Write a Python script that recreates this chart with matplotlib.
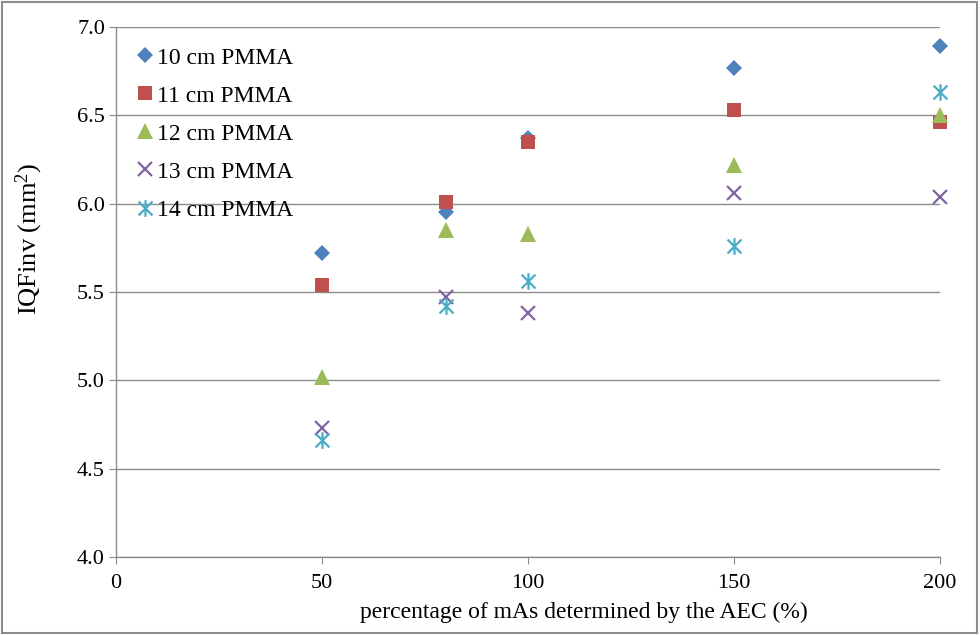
import numpy as np
import matplotlib
matplotlib.use("Agg")
import matplotlib.pyplot as plt
from matplotlib.path import Path
from matplotlib.patches import Rectangle

# data
mas_pct = [50, 80, 100, 150, 200]
iqf_10cm = [5.72, 5.95, 6.37, 6.77, 6.89]
iqf_11cm = [5.54, 6.01, 6.35, 6.53, 6.46]
iqf_12cm = [5.02, 5.85, 5.83, 6.22, 6.50]
iqf_13cm = [4.73, 5.47, 5.38, 6.06, 6.04]
iqf_14cm = [4.66, 5.42, 5.56, 5.76, 6.63]
labels = ["10 cm PMMA", "11 cm PMMA", "12 cm PMMA", "13 cm PMMA", "14 cm PMMA"]

plt.rcParams["font.family"] = ["Liberation Serif", "DejaVu Serif"]
plt.rcParams["mathtext.default"] = "regular"

# Excel-style star: X with a vertical bar
star_path = Path(
    [(-0.5, -0.5), (0.5, 0.5), (-0.5, 0.5), (0.5, -0.5), (0, -0.6), (0, 0.6)],
    [Path.MOVETO, Path.LINETO, Path.MOVETO, Path.LINETO, Path.MOVETO, Path.LINETO],
)

series = [
    (iqf_10cm, "D", "#4F81BD", 8.5),
    (iqf_11cm, "s", "#C0504D", 10.5),
    (iqf_12cm, "^", "#9BBB59", 11),
    (iqf_13cm, "x", "#8064A2", 10),
    (iqf_14cm, star_path, "#4BACC6", 12),
]

fig = plt.figure(figsize=(9.8, 6.35), dpi=100)
ax = fig.add_axes([0.1184, 0.1228, 0.8408, 0.8347])

for (vals, mk, col, ms), lab in zip(series, labels):
    line_marker = mk == "x" or isinstance(mk, Path)
    ax.plot(mas_pct, vals, linestyle="none", marker=mk, color=col,
            markersize=ms, markeredgewidth=1.6 if line_marker else 0,
            label=lab, clip_on=False, zorder=3)

ax.set_xlim(0, 200)
ax.set_ylim(4.0, 7.0)
ax.set_xticks([0, 50, 100, 150, 200])
ax.set_yticks(np.arange(4.0, 7.01, 0.5))
ax.set_yticklabels([f"{v:.1f}" for v in np.arange(4.0, 7.01, 0.5)])
ax.yaxis.grid(True, color="#8c8c8c", linewidth=1.0)
ax.set_axisbelow(True)
for s in ("top", "right"):
    ax.spines[s].set_visible(False)
for s in ("left", "bottom"):
    ax.spines[s].set_color("#8c8c8c")
    ax.spines[s].set_linewidth(1.0)
ax.tick_params(axis="both", colors="#8c8c8c", labelcolor="black", labelsize=16,
               length=5, direction="out")
ax.tick_params(axis="x", pad=7)
ax.tick_params(axis="y", pad=3)

ax.set_xlabel("percentage of mAs determined by the AEC (%)", fontsize=17)
ax.xaxis.set_label_coords(0.568, -0.084)
ax.set_ylabel("IQFinv (mm$^2$)", fontsize=19)
ax.yaxis.set_label_coords(-0.086, 0.6)

ax.legend(loc="upper left", frameon=False, fontsize=17, handletextpad=0.0,
          handlelength=1.0, labelspacing=0.7, borderaxespad=0.0,
          bbox_to_anchor=(0.009, 0.98))

fig.patches.append(Rectangle((0.002, 0.003), 0.995, 0.994, transform=fig.transFigure,
                             fill=False, edgecolor="#8c8c8c", linewidth=1.5))

fig.savefig("out.png", dpi=100)
